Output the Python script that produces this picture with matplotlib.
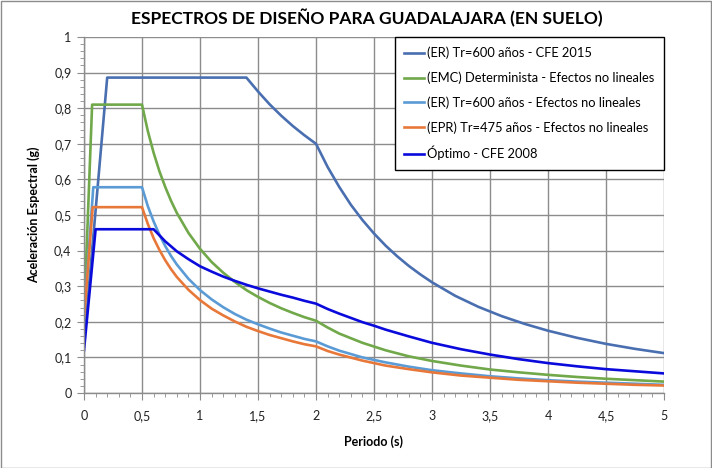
import matplotlib
matplotlib.use("Agg")
import matplotlib.pyplot as plt
from matplotlib.ticker import MultipleLocator, FuncFormatter
from matplotlib.patches import Rectangle

plt.rcParams['font.family'] = ['Lato', 'DejaVu Sans']

# ---- data ----
dec_T = [0.5, 0.55, 0.6, 0.65, 0.7, 0.75, 0.8, 0.9, 1.0, 1.1, 1.2, 1.3, 1.4, 1.5,
         1.6, 1.7, 1.8, 1.9, 2.0, 2.1, 2.2, 2.4, 2.6, 2.8, 3.0, 3.25, 3.5, 3.75, 4.0,
         4.25, 4.5, 4.75, 5.0]

# (ER) Tr=600 años - CFE 2015
er15_T = [0.0, 0.2, 1.4, 1.5, 1.6, 1.7, 1.8, 1.9, 2.0, 2.1, 2.2, 2.3, 2.4, 2.5, 2.6,
          2.7, 2.8, 2.9, 3.0, 3.2, 3.4, 3.6, 3.8, 4.0, 4.25, 4.5, 4.75, 5.0]
er15_S = [0.14, 0.886, 0.886, 0.847, 0.811, 0.779, 0.750, 0.724, 0.700, 0.635,
          0.579, 0.529, 0.486, 0.448, 0.414, 0.384, 0.357, 0.333, 0.311, 0.273,
          0.242, 0.216, 0.194, 0.175, 0.155, 0.138, 0.124, 0.112]

# (EMC) Determinista - Efectos no lineales
emc_T = [0.0, 0.07] + dec_T
emc_S = [0.21, 0.81, 0.810, 0.736, 0.675, 0.623, 0.579, 0.540, 0.506, 0.450, 0.405,
         0.368, 0.338, 0.312, 0.289, 0.270, 0.253, 0.238, 0.225, 0.213, 0.203,
         0.184, 0.167, 0.141, 0.120, 0.103, 0.090, 0.077, 0.066, 0.058, 0.051,
         0.045, 0.040, 0.036, 0.032]

# (ER) Tr=600 años - Efectos no lineales
ernl_T = [0.0, 0.08] + dec_T
ernl_S = [0.21, 0.578, 0.578, 0.525, 0.482, 0.445, 0.413, 0.385, 0.361, 0.321, 0.289,
          0.263, 0.241, 0.222, 0.206, 0.193, 0.181, 0.170, 0.161, 0.152, 0.145,
          0.131, 0.119, 0.100, 0.086, 0.074, 0.064, 0.055, 0.047, 0.041, 0.036,
          0.032, 0.029, 0.026, 0.023]

# (EPR) Tr=475 años - Efectos no lineales
epr_T = [0.0, 0.075] + dec_T
epr_S = [0.21, 0.522, 0.522, 0.475, 0.435, 0.402, 0.373, 0.348, 0.326, 0.290, 0.261,
         0.237, 0.218, 0.201, 0.186, 0.174, 0.163, 0.154, 0.145, 0.137, 0.131,
         0.118, 0.108, 0.091, 0.077, 0.067, 0.058, 0.049, 0.043, 0.037, 0.033,
         0.029, 0.026, 0.023, 0.021]

# Óptimo - CFE 2008
opt_T = [0.0, 0.1, 0.6, 0.7, 0.8, 0.9, 1.0, 1.1, 1.2, 1.3, 1.4, 1.5, 1.6, 1.7, 1.8,
         1.9, 2.0, 2.1, 2.2, 2.3, 2.4, 2.5, 2.6, 2.8, 3.0, 3.25, 3.5, 3.75, 4.0,
         4.25, 4.5, 4.75, 5.0]
opt_S = [0.12, 0.46, 0.46, 0.426, 0.398, 0.376, 0.356, 0.341, 0.327, 0.315, 0.304,
         0.294, 0.285, 0.276, 0.268, 0.259, 0.251, 0.236, 0.223, 0.211, 0.199,
         0.189, 0.178, 0.159, 0.141, 0.123, 0.108, 0.095, 0.084, 0.075, 0.067,
         0.061, 0.055]

labels = ["(ER) Tr=600 años - CFE 2015",
          "(EMC) Determinista - Efectos no lineales",
          "(ER) Tr=600 años - Efectos no lineales",
          "(EPR) Tr=475 años - Efectos no lineales",
          "Óptimo - CFE 2008"]
colors = ["#4A6FB0", "#70A84A", "#5B9BD5", "#E8783A", "#0A0ADC"]

title = "ESPECTROS DE DISEÑO PARA GUADALAJARA (EN SUELO)"
xlabel = "Periodo (s)"
ylabel = "Aceleración Espectral (g)"

# ---- figure ----
fig = plt.figure(figsize=(7.12, 4.68), dpi=100)
ax = fig.add_axes([84/712, 1-393/468, 580/712, 356/468])

series = [(er15_T, er15_S), (emc_T, emc_S), (ernl_T, ernl_S), (epr_T, epr_S), (opt_T, opt_S)]
for (T, S), lab, c in zip(series, labels, colors):
    ax.plot(T, S, color=c, lw=1.9, label=lab, solid_joinstyle='round')

ax.set_xlim(0, 5)
ax.set_ylim(0, 1)
ax.xaxis.set_major_locator(MultipleLocator(0.5))
ax.xaxis.set_minor_locator(MultipleLocator(0.1))
ax.yaxis.set_major_locator(MultipleLocator(0.1))
ax.yaxis.set_minor_locator(MultipleLocator(0.02))

def fmt(v, pos):
    s = ("%.1f" % v).rstrip('0').rstrip('.')
    return s.replace('.', ',')
ax.xaxis.set_major_formatter(FuncFormatter(fmt))
ax.yaxis.set_major_formatter(FuncFormatter(fmt))

gc = "#8C8C8C"
ax.grid(True, which='major', color=gc, lw=1.0)
ax.set_axisbelow(True)
for sp in ['top', 'right']:
    ax.spines[sp].set_visible(False)
for sp in ['left', 'bottom']:
    ax.spines[sp].set_color(gc)
    ax.spines[sp].set_linewidth(1.0)
ax.tick_params(which='major', direction='out', length=5, color=gc, labelsize=9,
               labelcolor='#222222', pad=4)
ax.tick_params(which='minor', direction='out', length=3, color=gc)
ax.tick_params(axis='x', which='major', pad=7)

ax.set_xlabel(xlabel, fontsize=9, fontweight='bold', labelpad=10)
ax.set_ylabel(ylabel, fontsize=9, fontweight='bold', labelpad=10)
fig.text(0.515, 1-18/468, title, ha='center', va='center', fontsize=12.5, fontweight='bold')

leg = ax.legend(loc='upper right', bbox_to_anchor=(1.0, 1.0), borderaxespad=0,
                fancybox=False, edgecolor='black', framealpha=1, fontsize=9.3,
                handlelength=1.5, handletextpad=0.25, labelspacing=0.95,
                borderpad=0.75)
leg.get_frame().set_linewidth(1.0)

fig.patches.append(Rectangle((0.001, 0.001), 0.997, 0.997, transform=fig.transFigure,
                             fill=False, edgecolor='#8C8C8C', lw=1.0))

fig.savefig("out.png", dpi=100)
